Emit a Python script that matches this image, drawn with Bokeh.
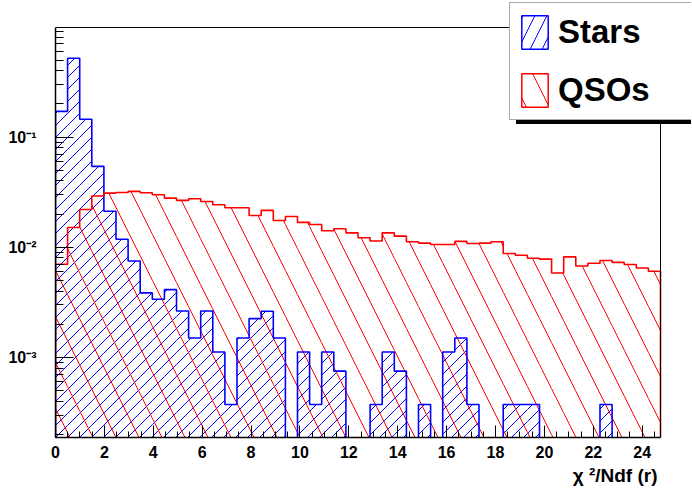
import numpy as np
from bokeh.plotting import figure
from bokeh.models import (Range1d, FixedTicker, CustomJSTickFormatter, Legend,
                          LegendItem, Title)
from bokeh.embed import file_html
from bokeh.resources import INLINE

# ---------------- data ----------------
x_min, x_max, n_bins = 0.0, 24.75, 50

stars = [0.171, 0.519, 0.145, 0.0542, 0.0212, 0.0118, 0.0075, 0.00385, 0.00337, 0.00412,
         0.00264, 0.0015, 0.00264, 0.00112, 0.000374, 0.0015, 0.00225, 0.00262, 0.0015, 0.0,
         0.00112, 0.000374, 0.00112, 0.00075, 0.0, 0.0, 0.000374, 0.00112, 0.00075, 0.0,
         0.000374, 0.0, 0.00112, 0.0015, 0.000374, 0.0, 0.0, 0.000374, 0.000374, 0.000374,
         0.0, 0.0, 0.0, 0.0, 0.0, 0.000374, 0.0, 0.0, 0.0, 0.0]

qsos = [0.0070, 0.0151, 0.0220, 0.0292, 0.0310, 0.0314, 0.0321, 0.0312, 0.0299, 0.0279,
        0.0266, 0.0275, 0.0260, 0.0243, 0.0228, 0.0228, 0.0194, 0.0216, 0.0175, 0.0190,
        0.0168, 0.0161, 0.0141, 0.0147, 0.0135, 0.0122, 0.0114, 0.0135, 0.0126, 0.0112,
        0.0109, 0.0106, 0.0106, 0.0113, 0.0108, 0.0109, 0.0112, 0.00876, 0.00846, 0.00794,
        0.0078, 0.00584, 0.00817, 0.00676, 0.00716, 0.00757, 0.00728, 0.00697, 0.00648, 0.00605]

x_major_ticks = [0, 2, 4, 6, 8, 10, 12, 14, 16, 18, 20, 22, 24]
y_major_ticks = [1e-3, 1e-2, 1e-1]
y_min, y_max = 1.875e-4, 0.987
x_title = "\u03c7 \u00b2/Ndf (r)"
labels = ["Stars", "QSOs"]

# ---------------- layout geometry (pixels) ----------------
FRAME_L, AX_R, AX_T, AX_B = 55, 660, 27, 437
CANVAS_W, CANVAS_H = 691, 492
LEG_L, LEG_B, LEG_PAD, GLYPH_W, GLYPH_H, LEG_SP = 509, 120, 8, 33, 42, 16
BLUE_SP, RED_SP = 12, 23          # horizontal spacing of the hatch lines

# the drawing frame covers the whole area right of / above the axes so the
# legend can stick out of the ROOT-style box; axes are limited by bounds
x_end = x_min + (x_max - x_min) * (CANVAS_W - FRAME_L) / (AX_R - FRAME_L)
ly0, ly1 = np.log10(y_min), np.log10(y_max)
y_end = 10 ** (ly0 + (ly1 - ly0) * AX_B / (AX_B - AX_T))
PX_X = (AX_R - FRAME_L) / (x_max - x_min)
PX_DEC = (AX_B - AX_T) / (ly1 - ly0)


def px_x(x):
    return FRAME_L + (np.asarray(x) - x_min) * PX_X


def px_y(y):
    return AX_B - (np.log10(np.asarray(y)) - ly0) * PX_DEC


def data_x(px):
    return x_min + (np.asarray(px) - FRAME_L) / PX_X


def data_y(py):
    return 10 ** (ly0 + (AX_B - np.asarray(py)) / PX_DEC)


# ---------------- derived ----------------
edges = np.linspace(x_min, x_max, n_bins + 1)
floor = 1e-7


def tops(vals):
    v = np.asarray(vals, dtype=float)
    return np.where(v > 0, v, floor)


def step_xy(vals):
    t = tops(vals)
    xs, ys = [edges[0]], [floor]
    for i, v in enumerate(t):
        xs += [edges[i], edges[i + 1]]
        ys += [v, v]
    xs.append(edges[-1])
    ys.append(floor)
    return xs, ys


def hatch_path(rects, s):
    """45-degree '/' hatch lines (screen space) clipped to pixel rectangles,
    returned as one NaN-separated path in data coordinates."""
    xs, ys = [], []
    for (x0, x1, y0, y1) in rects:
        for k in range(int(np.ceil((x0 + y0) / s)), int(np.floor((x1 + y1) / s)) + 1):
            c = k * s
            xa, xb = max(x0, c - y1), min(x1, c - y0)
            if xb > xa:
                xs += [xa, xb, np.nan]
                ys += [c - xa, c - xb, np.nan]
    return data_x(np.array(xs, dtype=float)), data_y(np.array(ys, dtype=float))


def bin_rects(vals):
    rects = []
    for i, v in enumerate(vals):
        if v > 0:
            rects.append((float(px_x(edges[i])), float(px_x(edges[i + 1])),
                          float(px_y(v)), float(AX_B)))
    return rects


FONT = "Liberation Sans"
BLUE = "#0000ff"
RED = "#ff0000"

p = figure(frame_width=CANVAS_W - FRAME_L, frame_height=AX_B,
           min_border_left=FRAME_L, min_border_right=0, min_border_top=0,
           min_border_bottom=CANVAS_H - AX_B,
           x_range=Range1d(x_min, x_end), y_range=Range1d(y_min, y_end),
           y_axis_type="log", output_backend="svg", toolbar_location=None)
p.grid.visible = False
p.background_fill_color = "white"
p.border_fill_color = "white"
p.outline_line_color = None

# hatched fills (ROOT fill styles 3004 "/" and 3005 "\")
hbx, hby = hatch_path(bin_rects(stars), BLUE_SP)
p.line(hbx, hby, line_color=BLUE, line_width=1)
p.quad(left=edges[:-1], right=edges[1:], bottom=floor, top=tops(qsos),
       fill_color=None, line_color=None, hatch_pattern="\\", hatch_color=RED,
       hatch_scale=2 * RED_SP, hatch_weight=1)

# outlines
sx, sy = step_xy(stars)
p.line(sx, sy, line_color=BLUE, line_width=1.6)
qx, qy = step_xy(qsos)
p.line(qx, qy, line_color=RED, line_width=1.6)

# ROOT frame: top and right sides
p.line([x_min, x_max, x_max], [y_max, y_max, y_min], line_color="black", line_width=1)

# legend swatch renderers (degenerate, invisible data; built-in hatch for the swatch)
leg_b = p.quad(left=[x_min], right=[x_min], bottom=[floor], top=[floor], fill_color=None,
               line_color=BLUE, line_width=1.5, hatch_pattern="/", hatch_color=BLUE,
               hatch_scale=2 * BLUE_SP, hatch_weight=1)
leg_r = p.quad(left=[x_min], right=[x_min], bottom=[floor], top=[floor], fill_color=None,
               line_color=RED, line_width=1.5, hatch_pattern="\\", hatch_color=RED,
               hatch_scale=2 * RED_SP, hatch_weight=1)

# axes
xa = p.xaxis[0]
xa.bounds = (x_min, x_max)
xa.ticker = FixedTicker(ticks=x_major_ticks,
                        minor_ticks=list(np.arange(x_min, x_max, 0.5)))
xa.major_tick_in = 12
xa.major_tick_out = 0
xa.minor_tick_in = 6
xa.minor_tick_out = 0
xa.major_tick_line_color = "black"
xa.minor_tick_line_color = "black"
xa.axis_line_color = "black"
xa.axis_line_width = 1.5
xa.major_label_text_font = FONT
xa.major_label_text_font_style = "bold"
xa.major_label_text_font_size = "16px"
xa.major_label_text_color = "black"
xa.major_label_standoff = 8

ya = p.yaxis[0]
ya.bounds = (y_min, y_max)
minor_y = [m * d for d in [1e-4, 1e-3, 1e-2, 1e-1] for m in range(2, 10)]
ya.ticker = FixedTicker(ticks=y_major_ticks, minor_ticks=minor_y)
ya.major_tick_in = 18
ya.major_tick_out = 0
ya.minor_tick_in = 8
ya.minor_tick_out = 0
ya.major_tick_line_color = "black"
ya.minor_tick_line_color = "black"
ya.axis_line_color = "black"
ya.axis_line_width = 1.5
ya.major_label_text_font = FONT
ya.major_label_text_font_style = "bold"
ya.major_label_text_font_size = "16px"
ya.major_label_text_color = "black"
ya.major_label_standoff = 19
ya.formatter = CustomJSTickFormatter(code="""
const e = Math.round(Math.log10(tick));
const m = {'-':'\\u207b','0':'\\u2070','1':'\\u00b9','2':'\\u00b2','3':'\\u00b3',
           '4':'\\u2074','5':'\\u2075','6':'\\u2076','7':'\\u2077','8':'\\u2078','9':'\\u2079'};
return '10' + String(e).split('').map(c => m[c]).join('');
""")

# x axis title, right aligned with the ROOT frame
p.add_layout(Title(text=x_title, align="right", offset=(CANVAS_W - AX_R) + 3,
                   standoff=5, text_font=FONT, text_font_style="bold",
                   text_font_size="19px", text_color="black"), "below")


# legend with shadow
def make_legend(loc, bg, border, texts, text_alpha):
    return Legend(items=[LegendItem(label=texts[0], renderers=[leg_b]),
                         LegendItem(label=texts[1], renderers=[leg_r])],
                  location=loc, orientation="vertical",
                  background_fill_color=bg, background_fill_alpha=1.0,
                  border_line_color=border, border_line_width=1,
                  glyph_width=GLYPH_W, glyph_height=GLYPH_H, spacing=LEG_SP,
                  padding=LEG_PAD, label_standoff=7, label_width=170,
                  label_height=GLYPH_H, label_text_font=FONT,
                  label_text_font_style="bold", label_text_font_size="33px",
                  label_text_color="black", label_text_alpha=text_alpha, margin=0)


p.add_layout(make_legend((LEG_L + 7 - FRAME_L, AX_B - (LEG_B + 4)), "black", "black",
                         [" ", " "], 0.0))
p.add_layout(make_legend((LEG_L - FRAME_L, AX_B - LEG_B), "white", "#555555", labels, 1.0))

open("out.html", "w").write(file_html(p, INLINE))
